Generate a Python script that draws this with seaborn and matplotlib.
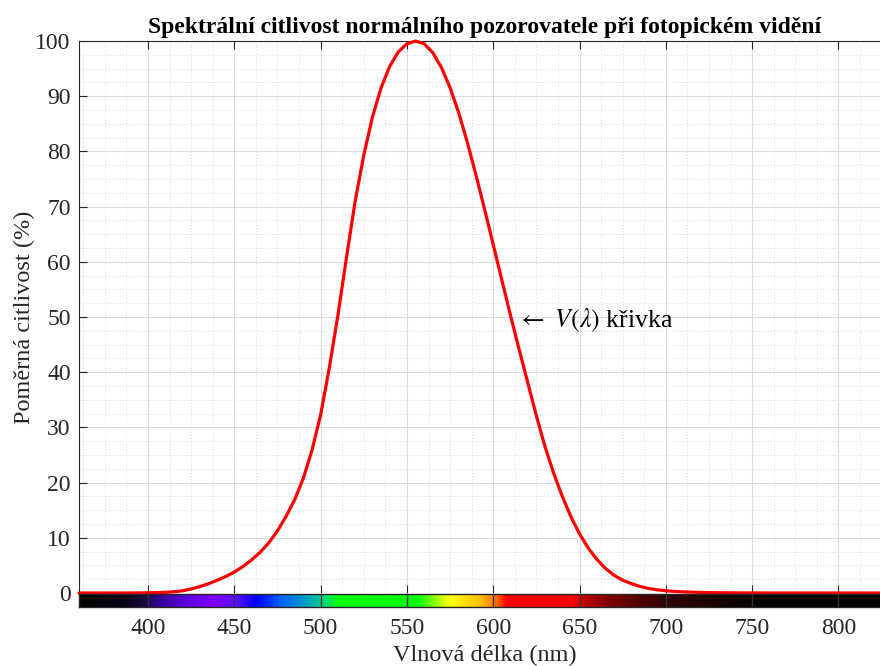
import numpy as np
import pandas as pd
import matplotlib
matplotlib.use("Agg")
import matplotlib.pyplot as plt
import seaborn as sns
from matplotlib.colors import LinearSegmentedColormap

# ---- data ----
wavelength = [360, 365, 370, 375, 380, 385, 390, 395, 400, 405, 410, 415, 420, 425, 430, 435,
              440, 445, 450, 455, 460, 465, 470, 475, 480, 485, 490, 495, 500, 505, 510, 515,
              520, 525, 530, 535, 540, 545, 550, 555, 560, 565, 570, 575, 580, 585, 590, 595,
              600, 605, 610, 615, 620, 625, 630, 635, 640, 645, 650, 655, 660, 665, 670, 675,
              680, 685, 690, 695, 700, 705, 710, 715, 720, 725, 730, 735, 740, 745, 750, 760,
              770, 780, 800, 830]
sensitivity = [0.0004, 0.0007, 0.0012, 0.0022, 0.0039, 0.0064, 0.012, 0.022, 0.04, 0.064, 0.12,
               0.22, 0.4, 0.73, 1.16, 1.68, 2.3, 2.98, 3.8, 4.8, 6.0, 7.39, 9.1, 11.26, 13.9,
               16.93, 20.8, 25.86, 32.3, 40.73, 50.3, 60.82, 71.0, 79.32, 86.2, 91.49, 95.4,
               98.03, 99.49, 100.0, 99.5, 97.86, 95.2, 91.54, 87.0, 81.63, 75.7, 69.49, 63.1,
               56.67, 50.3, 44.12, 38.1, 32.1, 26.5, 21.7, 17.5, 13.82, 10.7, 8.16, 6.1, 4.46,
               3.2, 2.32, 1.7, 1.19, 0.82, 0.57, 0.41, 0.29, 0.21, 0.15, 0.105, 0.074, 0.052,
               0.036, 0.025, 0.017, 0.012, 0.006, 0.003, 0.0015, 0.0003, 0.0]

x_ticks = [400, 450, 500, 550, 600, 650, 700, 750, 800]
y_ticks = [0, 10, 20, 30, 40, 50, 60, 70, 80, 90, 100]

spectrum_nm = [360, 385, 398, 402, 420, 437, 450, 462, 476, 495, 503, 510, 556, 567, 575,
               592, 600, 604, 608, 646, 652, 667, 685, 700, 740, 760, 830]
spectrum_colors = ["#000000", "#060214", "#1a0a40", "#2a0080", "#5a00d8", "#8000ff", "#6010ff",
                   "#0000ff", "#0060ff", "#00b0b0", "#00e070", "#00ff00", "#00ff00", "#a0ff00",
                   "#ffff00", "#ffc000", "#ff8000", "#ff4000", "#ff0000", "#ff0000", "#c00000",
                   "#800000", "#500000", "#300808", "#100000", "#000000", "#000000"]

title = "Spektrální citlivost normálního pozorovatele při fotopickém vidění"
xlabel = "Vlnová délka (nm)"
ylabel = "Poměrná citlivost (%)"
annotation = r"$\leftarrow$ $V(\lambda)$ křivka"

# ---- style ----
sns.set_theme(style="white")
plt.rcParams["font.family"] = ["Liberation Serif", "DejaVu Serif"]
plt.rcParams["mathtext.fontset"] = "stix"

W, H = 880, 666
fig = plt.figure(figsize=(W / 100, H / 100), dpi=100)

x0, x1 = 360, 830
px_per_nm = 86.3 / 50
left_px = 79
right_px = left_px + (x1 - x0) * px_per_nm
top_px, bottom_px = 41, 593
strip_top, strip_bot = 594, 607

ax = fig.add_axes([left_px / W, 1 - bottom_px / H, (right_px - left_px) / W, (bottom_px - top_px) / H])
axs = fig.add_axes([left_px / W, 1 - strip_bot / H, (right_px - left_px) / W, (strip_bot - strip_top) / H])

df = pd.DataFrame({"wl": wavelength, "v": sensitivity})
sns.lineplot(data=df, x="wl", y="v", ax=ax, color="#ff0000", linewidth=2.3, clip_on=False, zorder=5)

ax.set_xlim(x0, x1)
ax.set_ylim(0, 100)
ax.set_xticks(x_ticks)
ax.set_yticks(y_ticks)
ax.set_xticks(np.arange(362.5, 830, 12.5), minor=True)
ax.set_yticks(np.arange(2.5, 100, 2.5), minor=True)
ax.grid(True, which="major", color="#dcdcdc", linewidth=0.8, linestyle="-")
ax.grid(True, which="minor", color="#d0d0d0", linewidth=0.6, linestyle=(0, (1, 2.5)))
ax.set_axisbelow(True)
ax.tick_params(axis="both", which="major", direction="in", length=6, width=0.8, color="#262626",
               top=True, bottom=True, left=True, right=False, labelbottom=False,
               labelsize=17, labelcolor="#262626", pad=6)
ax.tick_params(which="minor", length=0)
ax.set_xlabel("")
ax.set_ylabel(ylabel, fontsize=17.5, color="#262626", labelpad=0)
for sp in ax.spines.values():
    sp.set_color("#262626")
    sp.set_linewidth(0.8)
ax.spines["bottom"].set_visible(False)
ax.set_title(title, fontsize=17, fontweight="bold", color="#000000", pad=6)

ax.text(614, 49.4, annotation, fontsize=18.5, va="center", ha="left", color="#000000")

# spectrum strip
pos = [(n - x0) / (x1 - x0) for n in spectrum_nm]
cmap = LinearSegmentedColormap.from_list("spec", list(zip(pos, spectrum_colors)))
grad = np.linspace(x0, x1, 1000)[None, :]
axs.imshow(grad, aspect="auto", cmap=cmap, extent=(x0, x1, 0, 1), vmin=x0, vmax=x1)
axs.set_xlim(x0, x1)
axs.set_ylim(0, 1)
axs.set_yticks([])
axs.set_xticks(x_ticks)
axs.grid(True, axis="x", color="#333333", linewidth=1.0)
axs.set_axisbelow(False)
axs.tick_params(axis="x", length=0, labelsize=17, labelcolor="#262626", pad=8)
for sp in axs.spines.values():
    sp.set_color("#262626")
    sp.set_linewidth(1.0)
axs.set_xlabel(xlabel, fontsize=17.5, color="#262626", labelpad=4)

fig.savefig("out.png", dpi=100)
